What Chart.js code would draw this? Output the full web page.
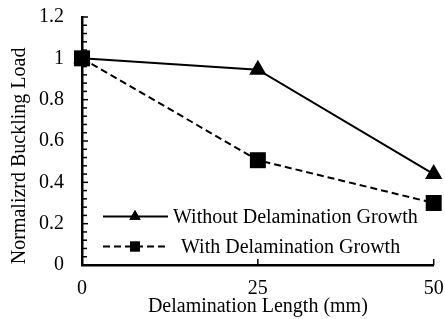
<!DOCTYPE html>
<html>
<head>
<meta charset="utf-8">
<script src="https://cdn.jsdelivr.net/npm/chart.js@4"></script>
<style>
  html, body { margin: 0; padding: 0; background: #fff; }
  #wrap { width: 445px; height: 319px; position: relative; }
</style>
</head>
<body>
<div id="wrap"><canvas id="c"></canvas></div>
<script>
// ---- data ----
const delaminationLengths = [0, 25, 50];
const withoutGrowth = [1.0, 0.945, 0.44];
const withGrowth = [1.0, 0.507, 0.30];
const seriesLabels = ['Without Delamination Growth', 'With Delamination Growth'];
const xTitle = 'Delamination Length (mm)';
const yTitle = 'Normalizrd Buckling Load';

const FONT = "'Liberation Serif', 'Times New Roman', serif";

const toPoints = (ys) => delaminationLengths.map((x, i) => ({ x: x, y: ys[i] }));

// inside tick marks, minor y ticks, y title, legend
const decor = {
  id: 'decor',
  beforeDatasetsDraw(chart) {
    const ctx = chart.ctx;
    const xs = chart.scales.x, ys = chart.scales.y;
    const x0 = xs.getPixelForValue(xs.min);
    const yb = ys.getPixelForValue(ys.min);
    ctx.save();
    ctx.strokeStyle = '#000';
    ctx.lineWidth = 1.5;
    const yt = ys.ticks.map(t => t.value);
    for (let i = 0; i < yt.length; i++) {
      const py = ys.getPixelForValue(yt[i]);
      ctx.beginPath(); ctx.moveTo(x0, py); ctx.lineTo(x0 + 6, py); ctx.stroke();
      if (i < yt.length - 1) {
        for (let k = 1; k < 5; k++) {
          const v = yt[i] + (yt[i + 1] - yt[i]) * k / 5;
          const p = ys.getPixelForValue(v);
          ctx.beginPath(); ctx.moveTo(x0, p); ctx.lineTo(x0 + 5, p); ctx.stroke();
        }
      }
    }
    xs.ticks.forEach(t => {
      const px = xs.getPixelForValue(t.value);
      ctx.beginPath(); ctx.moveTo(px, yb); ctx.lineTo(px, yb - 6); ctx.stroke();
    });
    ctx.restore();
  },
  afterDraw(chart) {
    const ctx = chart.ctx;
    const area = chart.chartArea;
    ctx.save();
    ctx.fillStyle = '#000';
    ctx.font = '20px ' + FONT;
    ctx.textAlign = 'center';
    ctx.textBaseline = 'middle';
    ctx.translate(20, area.top + (area.bottom - area.top) * 0.56);
    ctx.rotate(-Math.PI / 2);
    ctx.fillText(yTitle, 0, 0);
    ctx.restore();

    ctx.save();
    const rows = [
      { ds: chart.data.datasets[0], y: area.bottom - 48.5, textX: area.left + 91, r: 6.5 },
      { ds: chart.data.datasets[1], y: area.bottom - 18.5, textX: area.left + 99, r: 7 }
    ];
    rows.forEach(row => {
      const ds = row.ds;
      const lx1 = area.left + 21, lx2 = area.left + 86, mx = area.left + 53;
      ctx.strokeStyle = '#000';
      ctx.lineWidth = 2;
      ctx.setLineDash(ds.borderDash || []);
      ctx.beginPath(); ctx.moveTo(lx1, row.y); ctx.lineTo(lx2, row.y); ctx.stroke();
      ctx.setLineDash([]);
      Chart.helpers.drawPoint(ctx, {
        pointStyle: ds.pointStyle, radius: row.r, rotation: 0, borderWidth: 0
      }, mx, row.y);
      ctx.fillStyle = '#000';
      ctx.fill();
      ctx.font = '20px ' + FONT;
      ctx.textAlign = 'left';
      ctx.textBaseline = 'middle';
      ctx.fillText(ds.label, row.textX, row.y + 1);
    });
    ctx.restore();
  }
};

new Chart(document.getElementById('c'), {
  type: 'line',
  data: {
    datasets: [
      {
        label: seriesLabels[0],
        data: toPoints(withoutGrowth),
        borderColor: '#000',
        backgroundColor: '#000',
        borderWidth: 2,
        pointStyle: 'triangle',
        pointRadius: 10,
        pointHoverRadius: 10,
        pointBorderWidth: 0,
        tension: 0,
        clip: false
      },
      {
        label: seriesLabels[1],
        data: toPoints(withGrowth),
        borderColor: '#000',
        backgroundColor: '#000',
        borderWidth: 2,
        borderDash: [7, 4],
        pointStyle: 'rect',
        pointRadius: 11.3,
        pointHoverRadius: 11.3,
        pointBorderWidth: 0,
        tension: 0,
        clip: false
      }
    ]
  },
  options: {
    responsive: true,
    maintainAspectRatio: false,
    animation: false,
    events: [],
    layout: { padding: { left: 0, right: 10, top: 17, bottom: 0 } },
    plugins: {
      legend: { display: false },
      tooltip: { enabled: false }
    },
    scales: {
      x: {
        type: 'linear',
        min: 0, max: 50,
        ticks: {
          stepSize: 25,
          color: '#000',
          font: { family: FONT, size: 20 },
          padding: 12,
          maxRotation: 0
        },
        grid: { display: true, drawOnChartArea: false, drawTicks: false },
        border: { display: true, color: '#000', width: 2.5 },
        title: {
          display: true,
          text: xTitle,
          color: '#000',
          font: { family: FONT, size: 20 },
          padding: { top: 0, bottom: 0 }
        },
        afterFit(scale) {
          scale.height = 54;
          scale.paddingLeft = 0; scale.paddingRight = 0;
          scale.paddingTop = 0; scale.paddingBottom = 0;
        }
      },
      y: {
        type: 'linear',
        min: 0, max: 1.2,
        ticks: {
          stepSize: 0.2,
          color: '#000',
          font: { family: FONT, size: 20 },
          padding: 18,
          callback: (v) => String(Number(v.toFixed(1)))
        },
        grid: { display: true, drawOnChartArea: false, drawTicks: false },
        border: { display: true, color: '#000', width: 2.5 },
        title: { display: false },
        afterFit(scale) {
          scale.width = 82;
          scale.paddingLeft = 0; scale.paddingRight = 0;
          scale.paddingTop = 0; scale.paddingBottom = 0;
        }
      }
    }
  },
  plugins: [decor]
});
</script>
</body>
</html>
